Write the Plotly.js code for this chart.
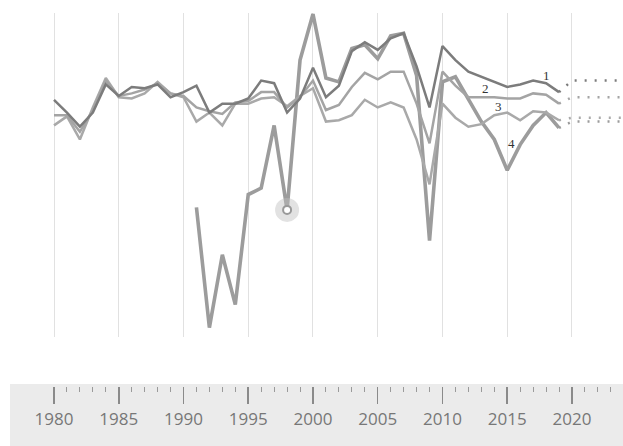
<!DOCTYPE html>
<html>
<head>
<meta charset="utf-8">
<script src="https://cdn.plot.ly/plotly-3.0.1.min.js"></script>
<style>
  html, body { margin: 0; padding: 0; background: #ffffff; }
  #chart { width: 623px; height: 446px; }
</style>
</head>
<body>
<div id="chart"></div>
<script>
// ---- data (annual growth, %) ----
const years = [];
for (let y = 1980; y <= 2019; y++) years.push(y);
const yearsS4 = years.filter(function (y) { return y >= 1991; });
const forecastYears = [2020, 2021, 2022, 2023, 2024];

const series1 = [3.3,2.3,1.2,2.3,4.5,3.6,4.3,4.2,4.5,3.5, 3.9,4.4,2.3,3.0,3.0,3.4,4.8,4.6,2.3,3.4,
                 5.8,3.5,4.4,7.1,7.8,7.2,8.1,8.5,5.9,2.7, 7.5,6.4,5.5,5.1,4.7,4.3,4.5,4.8,4.6,3.9];
const series2 = [2.1,2.1,0.8,2.5,4.8,3.6,3.8,4.1,4.6,3.8, 3.6,2.7,2.4,2.2,3.1,3.2,3.9,3.9,2.7,3.5,
                 4.8,2.5,2.9,4.3,5.4,4.9,5.5,5.5,3.0,-0.1, 5.5,4.4,3.5,3.5,3.5,3.4,3.4,3.8,3.7,3.0];
const series3 = [1.3,2.0,0.2,2.7,5.0,3.5,3.4,3.8,4.7,3.8, 3.5,1.6,2.3,1.3,3.0,3.0,3.4,3.5,2.8,3.6,
                 4.2,1.6,1.7,2.1,3.3,2.7,3.1,2.7,0.2,-3.3, 3.0,1.9,1.2,1.4,2.1,2.3,1.7,2.4,2.3,1.7];
const series4 = [-5.1,-14.5,-8.8,-12.7,-4.1,-3.6,1.3,-5.3,6.4,10.0,
                 5.0,4.7,7.3,7.6,6.5,8.3,8.5,5.2,-7.7,4.7,
                 5.1,3.4,1.6,0.2,-2.2,-0.2,1.3,2.3,1.1];
const forecast1 = [4.8,4.8,4.8,4.8,4.8];
const forecast2 = [3.5,3.5,3.5,3.5,3.5];
const forecast3 = [1.9,1.9,1.9,1.9,1.9];
const forecast4 = [1.6,1.6,1.6,1.6,1.6];
const highlightYear = 1998;
const seriesLabels = ["1", "2", "3", "4"];
const labelX = [2018.0, 2013.35, 2014.35, 2015.35];
const labelY = [5.2, 4.15, 2.75, -0.15];
const tickYears = [1980, 1985, 1990, 1995, 2000, 2005, 2010, 2015, 2020];
const minorTickYears = [];
for (let y = 1981; y <= 2023; y++) if (y % 5 !== 0) minorTickYears.push(y);

// ---- styles ----
const colors = ['#7c7c7c', '#a4a4a4', '#a9a9a9', '#9c9c9c'];
const widths = [2.5, 2.5, 2.5, 3.6];
const xRange = [1975.83, 2023.94];

function line(x, y, i) {
  return { x: x, y: y, type: 'scatter', mode: 'lines', hoverinfo: 'skip',
           line: { color: colors[i], width: widths[i] }, xaxis: 'x', yaxis: 'y' };
}
function dotted(last, fc, i) {
  return { x: [2019].concat(forecastYears), y: [last].concat(fc), type: 'scatter', mode: 'lines',
           hoverinfo: 'skip', line: { color: colors[i], width: 2.5, dash: '2px,8px' }, xaxis: 'x', yaxis: 'y' };
}

const hIdx = yearsS4.indexOf(highlightYear);
const traces = [
  line(yearsS4, series4, 3),
  line(years, series3, 2),
  line(years, series2, 1),
  line(years, series1, 0),
  dotted(series1[series1.length - 1], forecast1, 0),
  dotted(series2[series2.length - 1], forecast2, 1),
  dotted(series3[series3.length - 1], forecast3, 2),
  dotted(series4[series4.length - 1], forecast4, 3),
  { x: [highlightYear], y: [series4[hIdx]], type: 'scatter', mode: 'markers', hoverinfo: 'skip',
    marker: { size: 24, color: 'rgba(190,190,190,0.45)', line: { width: 0 } }, xaxis: 'x', yaxis: 'y' },
  { x: [highlightYear], y: [series4[hIdx]], type: 'scatter', mode: 'markers', hoverinfo: 'skip',
    marker: { size: 8, color: '#ffffff', line: { color: '#999999', width: 2 } }, xaxis: 'x', yaxis: 'y' },
  // invisible trace to create bottom axis subplot
  { x: [xRange[0]], y: [0], type: 'scatter', mode: 'markers', hoverinfo: 'skip',
    marker: { opacity: 0 }, xaxis: 'x2', yaxis: 'y2', showlegend: false }
];

const annotations = seriesLabels.map(function (t, i) {
  return { x: labelX[i], y: labelY[i], xref: 'x', yref: 'y', text: t, showarrow: false,
           font: { family: 'Liberation Serif, serif', size: 13, color: '#333333' } };
});

const H = 446;
const layout = {
  width: 623, height: 446,
  margin: { l: 0, r: 0, t: 0, b: 0, pad: 0 },
  paper_bgcolor: '#ffffff', plot_bgcolor: 'rgba(0,0,0,0)',
  showlegend: false,
  xaxis: { range: xRange, domain: [0, 1], anchor: 'y', tickvals: tickYears, showgrid: true,
           gridcolor: '#e1e1e1', gridwidth: 1, showticklabels: false, ticks: '', zeroline: false,
           showline: false, fixedrange: true },
  yaxis: { domain: [(H - 337) / H, (H - 13) / H], range: [-15.23, 10.08], visible: false,
           showgrid: false, zeroline: false, fixedrange: true },
  xaxis2: { range: xRange, domain: [0, 1], anchor: 'y2', tickvals: tickYears, ticks: 'outside',
            ticklen: 17, tickwidth: 1.5, tickcolor: '#8a8a8a', showgrid: false, zeroline: false,
            showline: false, ticklabelstandoff: 1,
            minor: { tickvals: minorTickYears, ticks: 'outside', ticklen: 5, tickwidth: 1, tickcolor: '#9a9a9a', showgrid: false },
            tickfont: { family: 'Open Sans, sans-serif', size: 17, color: '#777777' }, fixedrange: true },
  yaxis2: { domain: [(H - 386) / H, (H - 385) / H], range: [0, 1], visible: false, fixedrange: true },
  shapes: [{ type: 'rect', xref: 'paper', yref: 'paper', x0: 10 / 623, x1: 1, y0: 0, y1: (H - 384) / H,
             fillcolor: '#ebebeb', line: { width: 0 }, layer: 'below' }],
  annotations: annotations
};

Plotly.newPlot('chart', traces, layout, { staticPlot: true, displayModeBar: false });
</script>
</body>
</html>
